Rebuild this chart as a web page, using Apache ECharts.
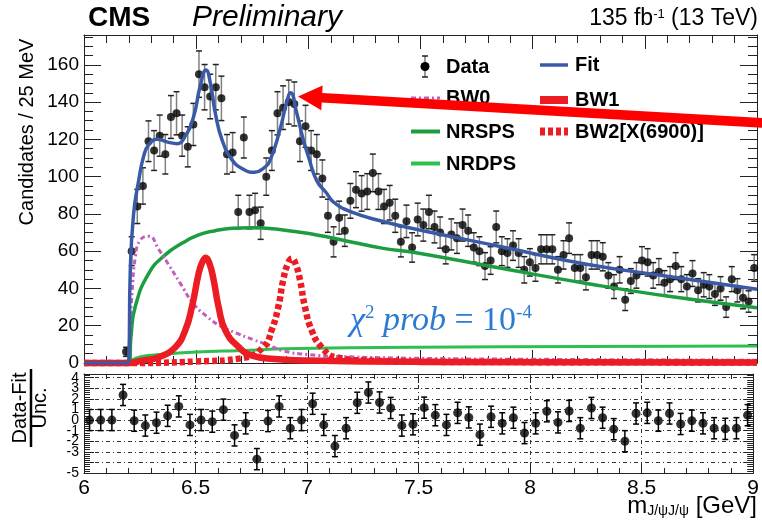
<!DOCTYPE html>
<html><head><meta charset="utf-8">
<script src="https://cdn.jsdelivr.net/npm/echarts@6/dist/echarts.min.js"></script>
<style>html,body{margin:0;padding:0;background:#fff}#c{width:762px;height:521px}</style>
</head><body><div id="c"></div>
<script>
// ---------- data ----------
// main panel: 25 MeV bins, first non-empty bin is 6.175-6.200 GeV
const binLow = 6.175;
const binWidth = 0.025;
const counts = [6,60,84,95,119,114,122,112,132,134,122,116,128,155,148,143,148,142,112,113,
  81,121,81,82,75,100,114,134,137,140,139,119,127,114,112,99,79,65,78,71,
  87,93,91,92,102,92,84,86,79,65,76,62,77,74,81,73,70,61,69,67,
  74,71,62,60,52,55,73,60,59,63,59,50,54,51,61,61,61,50,58,67,
  51,51,46,58,58,57,47,41,50,34,44,47,55,54,47,49,43,45,52,45,
  41,48,39,42,41,37,40,30,45,39,35,33,51];
// pull panel: 50 MeV bins from 6.0
const pullLow = 6.0;
const pullWidth = 0.05;
const pulls = [0,0,0,2.37,-0.06,-0.52,-0.25,0.4,1.29,-0.46,0,-0.15,0.98,-1.45,-0.31,-3.69,-0.09,1.29,-0.77,0,
  1.54,-0.46,-2.46,-0.77,1.63,2.6,1.66,1.14,-0.52,-0.4,1.17,0.46,-0.46,0.68,0.25,-1.38,0.31,-0.31,0.22,-1.23,
  -0.31,0.83,-0.22,0.86,-0.77,1.14,0.22,-0.86,-2.0,0.62,0.68,-0.06,0.62,-0.37,-0.06,-0.31,-0.77,-0.83,-0.77,0.46];
// fitted curves
const fitX = [6.0,6.1,6.19,6.2,6.206,6.221,6.244,6.266,6.288,6.325,6.377,6.414,6.451,6.489,6.518,6.544,6.563,6.585,6.615,6.66,6.71,6.76,6.80,6.83,6.873,6.903,6.921,6.948,6.977,7.0,7.037,7.081,7.111,7.185,7.334,7.48,7.86,8.24,8.623,9.0];
const fitY = [0,0,0,2,48,80,98,111,117,120,118.4,117.7,121.7,132.4,148.6,157.2,150.4,134.3,119.9,109,104,102.3,104.5,109,125,139.6,145,134.3,120,111,98,91.2,86.5,81.3,75.9,71.8,62.4,53,46.2,39.6];
const bw0X = [6.0,6.1,6.195,6.205,6.214,6.229,6.251,6.29,6.333,6.376,6.428,6.487,6.547,6.606,6.68,6.755,6.815,6.888,7.0,7.13,7.5,8.0,9.0];
const bw0Y = [0,0,0,20,37,57,66,68,61,53,43,32,25,20,16,12.5,10,6.5,4.5,3.5,2.5,2,1.5];
const bw1X = [6.0,6.1,6.2,6.259,6.333,6.407,6.451,6.481,6.511,6.527,6.543,6.559,6.578,6.6,6.63,6.69,6.749,6.85,7.0,7.5,9.0];
const bw1Y = [0,0,0,1.3,3.1,8.5,17.5,30,48,54,56.5,53.5,44.5,30,17.5,8.5,4,2.2,1.3,0.6,0.3];
const bw2X = [6.0,6.2,6.5,6.7,6.8,6.836,6.866,6.888,6.908,6.927,6.945,6.963,6.985,7.015,7.059,7.126,7.3,7.6,9.0];
const bw2Y = [0,0,0.8,2.5,8.5,17.5,30,44.5,53,56,52.5,44.5,30,17.5,8.5,3,1.2,0.6,0.3];
const nrspsX = [6.0,6.1,6.2,6.21,6.228,6.288,6.362,6.436,6.511,6.585,6.66,6.74,6.888,7.037,7.185,7.334,7.48,7.86,8.24,8.623,9.0];
const nrspsY = [0,0,0,15,30,48,58,64.2,68.7,71,72.3,72.6,71.4,68.7,65.1,61.5,59.2,50.8,42.7,35.5,29.7];
const nrdpsX = [6.0,6.1,6.2,6.22,6.25,6.29,6.44,6.62,6.74,6.89,7.48,8.25,9.0];
const nrdpsY = [0,0,0,2,3.2,4,5.5,6.4,6.8,7.6,8.5,8.8,9.1];

// ---------- build ----------
const FONT = "'Liberation Sans', Arial, Helvetica, sans-serif";
const SERIF = "'Liberation Serif', 'Times New Roman', serif";
const C_FIT = '#3a5aa8', C_RED = '#ec1c24', C_MAG = '#c45cc0', C_SPS = '#1c9e40', C_DPS = '#2fbf4f';
const mainPts = counts.map((c, i) => [+(binLow + (i + 0.5) * binWidth).toFixed(4), c]);
const mainErr = mainPts.map(p => [p[0], p[1] - Math.sqrt(p[1]), p[1] + Math.sqrt(p[1])]);
const pullPts = pulls.map((v, i) => [+(pullLow + (i + 0.5) * pullWidth).toFixed(4), v]);
const pullErr = pullPts.map(p => [p[0], p[1] - 1, p[1] + 1]);
const pairs = (xs, ys) => xs.map((x, i) => [x, ys[i]]);

function errorBars(color, capColor, capHalf, lw) {
  return function (params, api) {
    const x = api.value(0);
    const lo = api.coord([x, api.value(1)]);
    const hi = api.coord([x, api.value(2)]);
    return { type: 'group', children: [
      { type: 'line', shape: { x1: lo[0], y1: lo[1], x2: hi[0], y2: hi[1] }, style: { stroke: color, lineWidth: lw } },
      { type: 'line', shape: { x1: lo[0] - capHalf, y1: lo[1], x2: lo[0] + capHalf, y2: lo[1] }, style: { stroke: capColor, lineWidth: lw } },
      { type: 'line', shape: { x1: hi[0] - capHalf, y1: hi[1], x2: hi[0] + capHalf, y2: hi[1] }, style: { stroke: capColor, lineWidth: lw } }
    ]};
  };
}

const AX = '#222';
function xAx(grid, pos, showLabel, major, minor, split) {
  return { type: 'value', gridIndex: grid, position: pos, min: 6, max: 9, interval: 0.5,
    axisLine: { onZero: false, lineStyle: { color: AX, width: 1 } },
    axisTick: { inside: true, length: major, lineStyle: { color: AX } },
    minorTick: { show: true, splitNumber: 5, length: minor, lineStyle: { color: AX } },
    axisLabel: { show: showLabel, fontFamily: FONT, fontSize: 21, color: '#000', margin: 5, showMinLabel: true, showMaxLabel: true },
    splitLine: { show: split, lineStyle: { color: '#333', width: 1, type: [4, 3, 1, 3] } } };
}
function yAx(grid, pos, showLabel, min, max, interval, major, minor, minorSplit, fs, split) {
  return { type: 'value', gridIndex: grid, position: pos, min: min, max: max, interval: interval,
    axisLine: { onZero: false, lineStyle: { color: AX, width: 1 } },
    axisTick: { inside: true, length: major, lineStyle: { color: AX } },
    minorTick: { show: true, splitNumber: minorSplit, length: minor, lineStyle: { color: AX } },
    axisLabel: { show: showLabel, fontFamily: FONT, fontSize: fs, color: '#000', margin: 5, showMinLabel: true, showMaxLabel: false, hideOverlap: false },
    splitLine: { show: split, lineStyle: { color: '#333', width: 1, type: [4, 3, 1, 3] } } };
}

function curve(name, xs, ys, color, width, type, z, clip) {
  return { name: name, type: 'line', xAxisIndex: 0, yAxisIndex: 0, data: pairs(xs, ys),
    showSymbol: false, symbol: 'none', smooth: 0.5, clip: clip, z: z,
    lineStyle: { color: color, width: width, type: type, cap: 'butt', join: 'round' }, silent: true };
}

// legend / annotations (graphic)
const g = [];
function txt(x, y, text, opt) {
  g.push(Object.assign({ type: 'text', x: x, y: y, z: 50,
    style: Object.assign({ text: text, fontFamily: FONT, fontSize: 20, fill: '#000', align: 'left', verticalAlign: 'middle' }, opt.style || {}) },
    opt.rotation !== undefined ? { rotation: opt.rotation } : {}));
}
function seg(x1, y1, x2, y2, color, w, dash) {
  g.push({ type: 'line', z: 50, shape: { x1: x1, y1: y1, x2: x2, y2: y2 },
    style: { stroke: color, lineWidth: w, lineDash: dash || null, lineCap: 'butt' } });
}
// titles
txt(88, 18, 'CMS', { style: { fontSize: 28, fontWeight: 'bold' } });
txt(192, 18, 'Preliminary', { style: { fontSize: 30, fontStyle: 'italic' } });
txt(758, 19, '135 fb{s|-1} (13 TeV)', { style: { fontSize: 23, align: 'right',
  rich: { s: { fontSize: 13, verticalAlign: 'top', fontFamily: FONT, fill: '#000' } } } });
// axis titles
txt(27, 132, 'Candidates / 25 MeV', { rotation: Math.PI / 2, style: { align: 'center', fontSize: 20 } });
txt(20, 408, 'Data-Fit', { rotation: Math.PI / 2, style: { align: 'center', fontSize: 20 } });
seg(31, 369, 31, 447, '#000', 2.5);
txt(40, 408, 'Unc.', { rotation: Math.PI / 2, style: { align: 'center', fontSize: 20 } });
txt(757, 506, '{m|m}{sub|J/\u03c8J/\u03c8} {m|[GeV]}', { style: { align: 'right', fontSize: 24,
  rich: { m: { fontSize: 24, fontFamily: FONT, fill: '#000' }, sub: { fontSize: 14, fontFamily: FONT, fill: '#000', verticalAlign: 'bottom' } } } });
// legend
seg(425, 56, 425, 77, '#777', 1.5); seg(422, 56, 428, 56, '#222', 1.5); seg(422, 77, 428, 77, '#222', 1.5);
g.push({ type: 'circle', z: 51, shape: { cx: 425, cy: 66.5, r: 4.5 }, style: { fill: '#000' } });
txt(446, 67, 'Data', { style: { fontWeight: 'bold' } });
seg(540, 65, 568, 65, C_FIT, 3.5); txt(575, 65, 'Fit', { style: { fontWeight: 'bold' } });
seg(411, 98, 440, 98, C_MAG, 3, [5, 3, 2, 3]); txt(446, 98, 'BW0', { style: { fontWeight: 'bold' } });
seg(540, 100, 568, 100, C_RED, 8); txt(575, 100, 'BW1', { style: { fontWeight: 'bold' } });
seg(411, 131.5, 440, 131.5, C_SPS, 4); txt(446, 132, 'NRSPS', { style: { fontWeight: 'bold' } });
seg(540, 131.5, 568, 131.5, C_RED, 8, [5, 3]); txt(575, 132.5, 'BW2[X(6900)]', { style: { fontWeight: 'bold' } });
seg(411, 163.5, 440, 163.5, C_DPS, 4); txt(446, 164.5, 'NRDPS', { style: { fontWeight: 'bold' } });
// chi2 text
txt(350, 321, '{i|\u03c7}{s|2}{i| prob} = 10{s|-4}', { style: { fontFamily: SERIF, fontSize: 34, fill: '#2b7bd4',
  rich: { i: { fontStyle: 'italic', fontSize: 34, fontFamily: SERIF, fill: '#2b7bd4' },
          s: { fontSize: 19, verticalAlign: 'top', fontFamily: SERIF, fill: '#2b7bd4' } } } });
// arrow (annotation)
g.push({ type: 'polygon', z: 60, shape: { points: [[298, 96.5], [322.6, 85.4], [322.2, 93.1], [770.3, 118.5], [769.7, 128.1], [321.7, 102.6], [321.3, 110.3]] },
  style: { fill: '#ff0000' } });

const option = {
  animation: false,
  backgroundColor: '#fff',
  grid: [
    { left: 84, top: 35, width: 673, height: 328 },
    { left: 84, top: 374, width: 673, height: 99 }
  ],
  xAxis: [
    xAx(0, 'bottom', false, 13, 7, false),
    xAx(0, 'top', false, 14, 8, false),
    xAx(1, 'bottom', true, 9, 5, true),
    xAx(1, 'top', false, 9, 5, false)
  ],
  yAxis: [
    yAx(0, 'left', true, 0, 176, 20, 17, 9, 4, 19, false),
    yAx(0, 'right', false, 0, 176, 20, 17, 9, 4, 19, false),
    yAx(1, 'left', true, -5, 4.35, 1, 10, 6, 5, 14, true),
    yAx(1, 'right', false, -5, 4.35, 1, 10, 6, 5, 14, false)
  ],
  series: [
    { type: 'custom', name: 'Data errors', xAxisIndex: 0, yAxisIndex: 0, data: mainErr, z: 3, silent: true,
      encode: { x: 0, y: [1, 2] }, renderItem: errorBars('#808080', '#222', 3, 1.5) },
    { type: 'scatter', name: 'Data', xAxisIndex: 0, yAxisIndex: 0, data: mainPts, symbol: 'circle', symbolSize: 8,
      itemStyle: { color: '#000' }, z: 4, silent: true },
    curve('NRDPS', nrdpsX, nrdpsY, C_DPS, 3, 'solid', 5, true),
    curve('NRSPS', nrspsX, nrspsY, C_SPS, 3.5, 'solid', 5, true),
    curve('BW0', bw0X, bw0Y, C_MAG, 3, [5, 3, 2, 3], 6, true),
    curve('BW2[X(6900)]', bw2X, bw2Y, C_RED, 6.5, [5, 3], 7, false),
    curve('BW1', bw1X, bw1Y, C_RED, 6.5, 'solid', 8, false),
    curve('Fit', fitX, fitY, C_FIT, 3.5, 'solid', 9, true),
    { type: 'custom', name: 'Pull errors', xAxisIndex: 2, yAxisIndex: 2, data: pullErr, z: 3, silent: true,
      encode: { x: 0, y: [1, 2] }, renderItem: errorBars('#000', '#000', 3, 1.5) },
    { type: 'scatter', name: 'Pull', xAxisIndex: 2, yAxisIndex: 2, data: pullPts, symbol: 'circle', symbolSize: 9,
      itemStyle: { color: '#000' }, z: 4, silent: true }
  ],
  graphic: g
};
const chart = echarts.init(document.getElementById('c'), null, { renderer: 'canvas' });
chart.setOption(option);
</script>
</body></html>
